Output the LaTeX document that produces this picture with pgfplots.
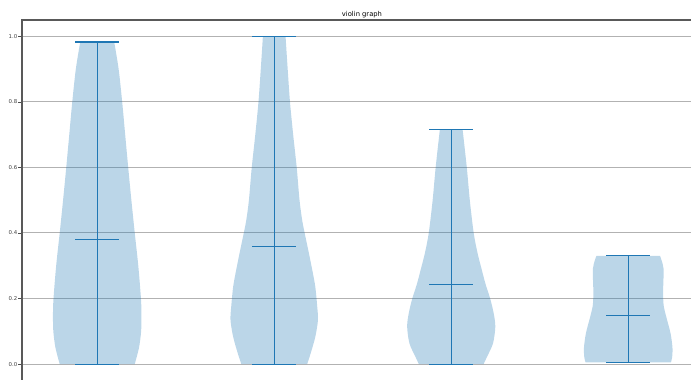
\documentclass[border=0pt]{standalone}
\usepackage{fontspec}
\setmainfont{DejaVu Sans}
\usepackage{pgfplots}
\usepackage{pgfplotstable}
\pgfplotsset{compat=1.18}
\usepgfplotslibrary{fillbetween}
\usetikzlibrary{calc}
\definecolor{mplblue}{HTML}{1F77B4}

% violin outlines: y level and half-width (data units)
\pgfplotstableread{
y     w
0.000 0.212
0.050 0.236
0.100 0.248
0.150 0.250
0.200 0.247
0.300 0.232
0.400 0.212
0.500 0.193
0.600 0.175
0.700 0.158
0.800 0.141
0.900 0.121
0.983 0.096
}\vA
\pgfplotstableread{
y     w
0.000 0.186
0.033 0.206
0.083 0.232
0.134 0.247
0.175 0.243
0.236 0.232
0.287 0.215
0.338 0.196
0.400 0.172
0.439 0.158
0.500 0.143
0.600 0.127
0.700 0.107
0.800 0.089
0.900 0.076
1.000 0.064
}\vB
\pgfplotstableread{
y     w
0.000 0.183
0.022 0.202
0.063 0.236
0.114 0.249
0.155 0.240
0.200 0.220
0.244 0.194
0.287 0.173
0.338 0.149
0.400 0.127
0.500 0.105
0.600 0.088
0.717 0.064
}\vC
\pgfplotstableread{
y     w
0.005 0.241
0.020 0.248
0.050 0.250
0.094 0.239
0.144 0.215
0.180 0.200
0.220 0.197
0.256 0.199
0.290 0.200
0.307 0.194
0.330 0.180
}\vD

\pgfplotsset{
  body/.style={fill=mplblue, fill opacity=0.3, draw=none},
  stat/.style={mplblue, line width=1.1bp, no marks},
}

\begin{document}
\begin{tikzpicture}
\begin{axis}[
  scale only axis, width=669bp, height=360bp,
  xmin=0.575, xmax=4.3547, ymin=-0.0486, ymax=1.05,
  clip=false,
  axis line style={draw=none},
  xtick=\empty,
  ytick={0,0.2,0.4,0.6,0.8,1.0},
  yticklabel={\pgfmathprintnumber[fixed,fixed zerofill,precision=1,assume math mode=true]{\tick}},
  ytick pos=left,
  tick align=outside,
  major tick length=3.5bp,
  ytick style={black!70, line width=0.8bp},
  yticklabel style={font=\fontsize{5.4}{6}\selectfont, text=black!75, inner sep=1bp},
  ymajorgrids,
  major grid style={black!30, line width=1bp},
]
% violin bodies: right edge up, left edge back down
\addplot[draw=none, smooth, name path=a1] table[x expr=1+\thisrow{w}, y=y] {\vA};
\addplot[draw=none, smooth, name path=a2] table[x expr=1-\thisrow{w}, y=y] {\vA};
\addplot[body] fill between[of=a1 and a2, reverse=true];
\addplot[draw=none, smooth, name path=b1] table[x expr=2+\thisrow{w}, y=y] {\vB};
\addplot[draw=none, smooth, name path=b2] table[x expr=2-\thisrow{w}, y=y] {\vB};
\addplot[body] fill between[of=b1 and b2, reverse=true];
\addplot[draw=none, smooth, name path=c1] table[x expr=3+\thisrow{w}, y=y] {\vC};
\addplot[draw=none, smooth, name path=c2] table[x expr=3-\thisrow{w}, y=y] {\vC};
\addplot[body] fill between[of=c1 and c2, reverse=true];
\addplot[draw=none, smooth, name path=d1] table[x expr=4+\thisrow{w}, y=y] {\vD};
\addplot[draw=none, smooth, name path=d2] table[x expr=4-\thisrow{w}, y=y] {\vD};
\addplot[body] fill between[of=d1 and d2, reverse=true];

% extent bars and centre lines
\addplot[stat] coordinates {(1,0) (1,0.983)};
\addplot[stat] coordinates {(0.875,0) (1.125,0)};
\addplot[stat] coordinates {(0.875,0.381) (1.125,0.381)};
\addplot[stat] coordinates {(0.875,0.983) (1.125,0.983)};

\addplot[stat] coordinates {(2,0) (2,1.0)};
\addplot[stat] coordinates {(1.875,0) (2.125,0)};
\addplot[stat] coordinates {(1.875,0.360) (2.125,0.360)};
\addplot[stat] coordinates {(1.875,1.0) (2.125,1.0)};

\addplot[stat] coordinates {(3,0) (3,0.717)};
\addplot[stat] coordinates {(2.875,0) (3.125,0)};
\addplot[stat] coordinates {(2.875,0.243) (3.125,0.243)};
\addplot[stat] coordinates {(2.875,0.717) (3.125,0.717)};

\addplot[stat] coordinates {(4,0.005) (4,0.330)};
\addplot[stat] coordinates {(3.875,0.005) (4.125,0.005)};
\addplot[stat] coordinates {(3.875,0.147) (4.125,0.147)};
\addplot[stat] coordinates {(3.875,0.330) (4.125,0.330)};

% left and top spines
\draw[black!65, line width=1.5bp] (rel axis cs:0,0) -- (rel axis cs:0,1) -- (rel axis cs:1,1);
\node[font=\fontsize{6.8}{8}\selectfont, anchor=base, yshift=3.5bp] at (rel axis cs:0.5082,1) {violin graph};
\end{axis}
\pgfresetboundingbox
\path[use as bounding box] ($(current axis.south west)+(-22bp,0)$) rectangle ($(current axis.north east)+(0,20bp)$);
\end{tikzpicture}
\end{document}
